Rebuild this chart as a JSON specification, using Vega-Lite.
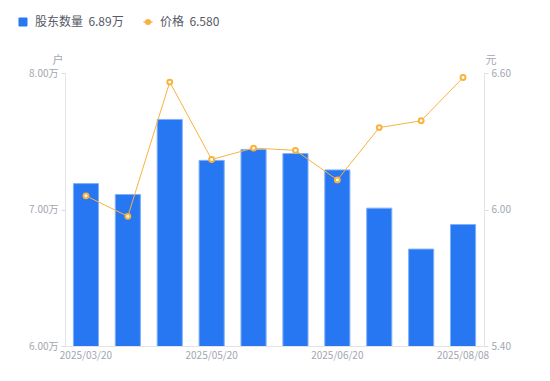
{
  "$schema": "https://vega.github.io/schema/vega-lite/v6.json",
  "width": 419,
  "height": 273,
  "autosize": "none",
  "padding": {"left": 65, "top": 73, "right": 66, "bottom": 35},
  "background": "white",
  "config": {
    "font": "Noto Sans CJK SC",
    "view": {"stroke": null},
    "axis": {"labelFont": "Noto Sans CJK SC", "titleFont": "Noto Sans CJK SC"}
  },
  "data": {
    "values": [
      {"date": "2025/03/20", "holders": 7.19, "price": 6.06},
      {"date": "2025/03/31", "holders": 7.11, "price": 5.97},
      {"date": "2025/04/30", "holders": 7.66, "price": 6.56},
      {"date": "2025/05/20", "holders": 7.36, "price": 6.22},
      {"date": "2025/05/31", "holders": 7.44, "price": 6.27},
      {"date": "2025/06/10", "holders": 7.41, "price": 6.26},
      {"date": "2025/06/20", "holders": 7.29, "price": 6.13},
      {"date": "2025/06/30", "holders": 7.01, "price": 6.36},
      {"date": "2025/07/31", "holders": 6.71, "price": 6.39},
      {"date": "2025/08/08", "holders": 6.89, "price": 6.58}
    ]
  },
  "encoding": {
    "x": {
      "field": "date",
      "type": "ordinal",
      "sort": null,
      "scale": {"paddingInner": 0.4, "paddingOuter": 0.2},
      "axis": {
        "title": null,
        "values": ["2025/03/20", "2025/05/20", "2025/06/20", "2025/08/08"],
        "labelAngle": 0,
        "labelFontSize": 10,
        "labelColor": "#a3a6b0",
        "labelPadding": 4,
        "ticks": false,
        "domainColor": "#e3e4e8",
        "domainWidth": 1
      }
    }
  },
  "layer": [
    {
      "mark": {"type": "bar", "fill": "#2877f2", "stroke": "#80b1fa", "strokeWidth": 1, "clip": true},
      "transform": [{"calculate": "'股东数量'", "as": "series"}],
      "encoding": {
        "y": {
          "field": "holders",
          "type": "quantitative",
          "scale": {"domain": [6, 8], "zero": false, "nice": false},
          "axis": {
            "values": [6, 7, 8],
            "labelExpr": "format(datum.value, '.2f') + '万'",
            "labelFontSize": 10,
            "labelColor": "#a3a6b0",
            "labelPadding": 3,
            "tickSize": 4,
            "tickColor": "#dcdde2",
            "domainColor": "#e3e4e8",
            "grid": false,
            "title": "户",
            "titleAngle": 0,
            "titleFontSize": 11,
            "titleFontWeight": "normal",
            "titleColor": "#a3a6b0",
            "titleAlign": "right",
            "titleBaseline": "bottom",
            "titleX": -2,
            "titleY": -8
          }
        },
        "color": {
          "field": "series",
          "type": "nominal",
          "scale": {"domain": ["股东数量", "价格"], "range": ["#2877f2", "#f9b23c"]},
          "legend": {
            "orient": "none",
            "legendX": -48,
            "legendY": -57,
            "direction": "horizontal",
            "title": null,
            "labelFontSize": 12,
            "labelColor": "#555a66",
            "labelOffset": 6,
            "columnPadding": 16,
            "symbolSize": 81,
            "labelExpr": "datum.label === '股东数量' ? '股东数量\u00a0\u00a06.89万' : '价格\u00a0\u00a06.580'",
            "encode": {
              "symbols": {
                "update": {
                  "shape": {"signal": "datum.value === '价格' ? 'M-1,0L-0.5,0M0.5,0L1,0M-0.5,0A0.5,0.5 0 1,0 0.5,0A0.5,0.5 0 1,0 -0.5,0Z' : 'M-1,-0.8Q-1,-1 -0.8,-1L0.8,-1Q1,-1 1,-0.8L1,0.8Q1,1 0.8,1L-0.8,1Q-1,1 -1,0.8Z'"},
                  "fill": {"signal": "datum.value === '价格' ? '#ffffff' : '#2877f2'"},
                  "stroke": {"signal": "datum.value === '价格' ? '#f9b23c' : '#2877f2'"},
                  "strokeWidth": {"signal": "datum.value === '价格' ? 1.5 : 0"},
                  "opacity": {"value": 1},
                  "fillOpacity": {"value": 1}
                }
              }
            }
          }
        }
      }
    },
    {
      "mark": {"type": "line", "color": "#f9b23c", "strokeWidth": 1},
      "transform": [{"calculate": "'价格'", "as": "series"}],
      "encoding": {
        "y": {
          "field": "price",
          "type": "quantitative",
          "scale": {"domain": [5.4, 6.6], "zero": false, "nice": false},
          "axis": {
            "orient": "right",
            "values": [5.4, 6.0, 6.6],
            "format": ".2f",
            "labelFontSize": 10,
            "labelColor": "#a3a6b0",
            "labelPadding": 3,
            "tickSize": 4,
            "tickColor": "#dcdde2",
            "domainColor": "#e3e4e8",
            "grid": false,
            "title": "元",
            "titleAngle": 0,
            "titleFontSize": 11,
            "titleFontWeight": "normal",
            "titleColor": "#a3a6b0",
            "titleAlign": "left",
            "titleBaseline": "bottom",
            "titleX": 1,
            "titleY": -8
          }
        },
        "color": {
          "field": "series",
          "type": "nominal",
          "legend": {
            "orient": "none",
            "legendX": -48,
            "legendY": -57,
            "direction": "horizontal",
            "title": null,
            "labelFontSize": 12,
            "labelColor": "#555a66",
            "labelOffset": 6,
            "columnPadding": 16,
            "symbolSize": 81,
            "labelExpr": "datum.label === '股东数量' ? '股东数量\u00a0\u00a06.89万' : '价格\u00a0\u00a06.580'",
            "encode": {
              "symbols": {
                "update": {
                  "shape": {"signal": "datum.value === '价格' ? 'M-1,0L-0.5,0M0.5,0L1,0M-0.5,0A0.5,0.5 0 1,0 0.5,0A0.5,0.5 0 1,0 -0.5,0Z' : 'M-1,-0.8Q-1,-1 -0.8,-1L0.8,-1Q1,-1 1,-0.8L1,0.8Q1,1 0.8,1L-0.8,1Q-1,1 -1,0.8Z'"},
                  "fill": {"signal": "datum.value === '价格' ? '#ffffff' : '#2877f2'"},
                  "stroke": {"signal": "datum.value === '价格' ? '#f9b23c' : '#2877f2'"},
                  "strokeWidth": {"signal": "datum.value === '价格' ? 1.5 : 0"},
                  "opacity": {"value": 1},
                  "fillOpacity": {"value": 1}
                }
              }
            }
          }
        }
      }
    },
    {
      "mark": {"type": "point", "shape": "circle", "filled": true, "fill": "#ffffff", "stroke": "#f9b23c", "strokeWidth": 2, "size": 24, "opacity": 1},
      "encoding": {
        "y": {"field": "price", "type": "quantitative", "scale": {"domain": [5.4, 6.6], "zero": false, "nice": false}, "axis": null}
      }
    }
  ],
  "resolve": {"scale": {"y": "independent"}}
}
